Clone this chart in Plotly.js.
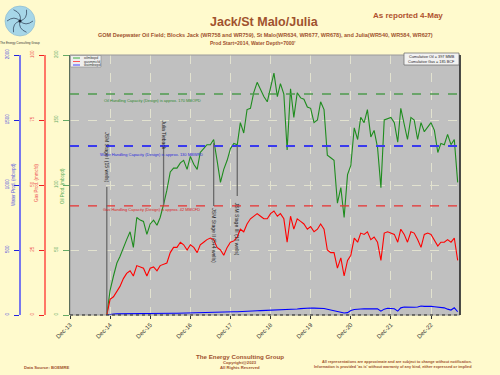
<!DOCTYPE html>
<html>
<head>
<meta charset="utf-8">
<script src="https://cdn.plot.ly/plotly-3.0.1.min.js"></script>
<style>html,body{margin:0;padding:0;background:#FFFACD;}#chart{width:500px;height:375px;}</style>
</head>
<body>
<div id="chart"></div>
<script>
// ---- data (monthly, first month Nov 2014) ----
const firstMonth = '2014-11';
const oilMbopd = [
  0,19,30,40,45,52,58,64,52,75,
  73,72,62,70,73,69,75,85,96,110,
  113,113,117,119,112,122,116,112,125,128,
  131,131,135,119,102,112,119,128,132,131,
  148,140,158,159,171,179,173,168,164,175,
  186,168,178,170,127,174,152,171,167,166,
  160,159,148,150,164,158,123,121,119,86,
  98,75,108,115,144,135,152,148,158,137,
  142,129,98,150,151,152,148,133,159,148,
  135,152,150,135,148,141,145,148,142,125,
  132,131,139,131,135,102
];
const gasMmcfd = [
  0,6,7,9,11,14,16,17,15,19,
  18.5,18,15,18,18.5,17,19,19.5,20,24,
  26,26,28,27,25,27,26,24,27,28,
  29,29.6,29,26,25,23,26,28,28.5,30,
  33,32,35,37,38,39,38,37,37,39,
  40,38,39,37,28,38,33,37,36,35,
  33,34,32,33,35,33,25,24,24,18,
  22,15,21,23,29.6,28,31.5,31,32,29,
  30,28,21,31.5,32,31.5,31,28,33,31,
  28,32,31.5,29,26,31,31.5,31,29,26.5,
  28,28,29,28,29.6,21
];
const waterMbwpd = [
  0,5,8,9,10,10,11,11,10,11,
  11,12,11,12,12,12,12,13,13,14,
  14,14,15,15,15,16,16,17,17,18,
  18,19,20,20,21,22,23,24,25,25,
  27,28,30,31,32,33,34,35,36,37,
  38,38,38,39,38,40,44,46,49,52,
  54,54,53,52,52,50,44,38,30,22,
  18,15,18,35,42,46,46,47,48,48,
  50,48,30,45,52,50,48,30,55,62,
  60,62,60,62,69,66,68,66,64,60,
  58,55,45,38,55,25
];
const xTickVals = ['2013-12-01','2014-12-01','2015-12-01','2016-12-01','2017-12-01','2018-12-01','2019-12-01','2020-12-01','2021-12-01','2022-12-01'];
const xTickText = ['Dec-13','Dec-14','Dec-15','Dec-16','Dec-17','Dec-18','Dec-19','Dec-20','Dec-21','Dec-22'];
const oilTicks = [0,50,100,150,200];
const gasTicks = [0,25,50,75,100];
const waterTicks = [0,500,1000,1500,2000];
const oilCapacity = 170, waterCapacity = 130, gasCapacity = 42;
const eventDates = ['2014-11-01','2016-04-01','2017-07-01','2018-02-01'];
const eventLabels = ['JSM Stage I (15 wells)','Julia Tieback','JSM Stage II (5+4 wells)','JSM Stage III (10 wells)'];
const legendNames = ['oilmbopd','gasmmcfd','watmbwpd'];
const cumulativeText = ['Cumulative Oil = 397 MMB','Cumulative Gas = 185 BCF'];

// ---- build dates ----
function monthSeq(start, n){
  let [y,m] = start.split('-').map(Number);
  const out=[];
  for(let i=0;i<n;i++){
    out.push(y+'-'+String(m).padStart(2,'0')+'-01');
    m++; if(m>12){m=1;y++;}
  }
  return out;
}
const dates = monthSeq(firstMonth, oilMbopd.length);

// pixel -> paper helpers (margins are zero)
const W=500,H=375;
const px = x => x/W;
const py = y => 1 - y/H;
const L=70,R=460,T=55,B=315;
const brown = '#A0522D';
const FF = 'Liberation Sans, Arial, sans-serif';

const traces = [
  {x:dates,y:waterMbwpd,yaxis:'y3',type:'scatter',mode:'lines',line:{color:'#0000ff',width:1.1},showlegend:false,name:legendNames[2]},
  {x:dates,y:gasMmcfd,yaxis:'y2',type:'scatter',mode:'lines',line:{color:'#ff0000',width:1.1},showlegend:false,name:legendNames[1]},
  {x:dates,y:oilMbopd,yaxis:'y',type:'scatter',mode:'lines',line:{color:'#1e8c1e',width:1.1},showlegend:false,name:legendNames[0]}
];

const shapes = [];
const ann = [];
function A(o){ ann.push(Object.assign({xref:'paper',yref:'paper',xanchor:'center',yanchor:'middle',showarrow:false},o)); }

// plot border
shapes.push({type:'rect',xref:'paper',yref:'paper',x0:px(L),x1:px(R),y0:py(B),y1:py(T),line:{color:'#9a9a9a',width:1},layer:'above'});
shapes.push({type:'line',xref:'paper',yref:'paper',x0:px(R),x1:px(R),y0:py(B),y1:py(T),line:{color:'#222',width:1.5},layer:'above'});
shapes.push({type:'line',xref:'paper',yref:'paper',x0:px(L),x1:px(R),y0:py(B),y1:py(B),line:{color:'#222',width:1,dash:'dot'},layer:'above'});

// capacity lines
shapes.push({type:'line',xref:'paper',yref:'y',x0:px(L),x1:px(R),y0:oilCapacity,y1:oilCapacity,line:{color:'#4d9a4d',width:1.3,dash:'dash'}});
shapes.push({type:'line',xref:'paper',yref:'y',x0:px(L),x1:px(R),y0:waterCapacity,y1:waterCapacity,line:{color:'#3a3aee',width:1.8,dash:'dash'}});
shapes.push({type:'line',xref:'paper',yref:'y2',x0:px(L),x1:px(R),y0:gasCapacity,y1:gasCapacity,line:{color:'#e83030',width:1.3,dash:'dash'}});
A({x:px(102),y:py(101),xanchor:'left',text:'Oil Handling Capacity (Design) is approx. '+oilCapacity+' MBOPD',font:{family:FF,size:4,color:'#2e8a2e'}});
A({x:px(98),y:py(154),xanchor:'left',text:'Water Handling Capacity (Design) is approx. '+waterCapacity+' MBWPD',font:{family:FF,size:4,color:'#2b2bdd'}});
A({x:px(101),y:py(209),xanchor:'left',text:'Gas Handling Capacity (Design) is approx. '+gasCapacity+' MMCFD',font:{family:FF,size:4,color:'#dd2222'}});

// event callouts
const evLine = [[187,313],[148,205],[143,206],[146,196]];
const evText = [157,135,236,229];
eventDates.forEach((d,i)=>{
  shapes.push({type:'line',xref:'x',yref:'paper',x0:d,x1:d,y0:py(evLine[i][1]),y1:py(evLine[i][0]),line:{color:'#6a6a6a',width:1.3}});
  A({xref:'x',x:d,y:py(evText[i]),textangle:90,text:eventLabels[i],font:{family:FF,size:5,color:'#222'}});
});

// manual legend
shapes.push({type:'rect',xref:'paper',yref:'paper',x0:px(70.5),x1:px(101),y0:py(67),y1:py(55.5),fillcolor:'#eeeeee',line:{color:'#888',width:0.6},layer:'above'});
const legCols = ['#3cae3c','#ff5555','#4444ff'];
legendNames.forEach((n,i)=>{
  const yy = 58+i*3.5;
  shapes.push({type:'line',xref:'paper',yref:'paper',x0:px(73),x1:px(80),y0:py(yy),y1:py(yy),line:{color:legCols[i],width:1},layer:'above'});
  A({x:px(81.5),y:py(yy),xanchor:'left',text:n,font:{family:FF,size:3.5,color:'#333'}});
});

// cumulative box
shapes.push({type:'rect',xref:'paper',yref:'paper',x0:px(404),x1:px(459),y0:py(65),y1:py(53),fillcolor:'#f2f2f2',line:{color:'#666',width:0.7},layer:'above'});
A({x:px(431.5),y:py(56.5),text:cumulativeText[0],font:{family:FF,size:3.8,color:'#222'}});
A({x:px(431.5),y:py(61.5),text:cumulativeText[1],font:{family:FF,size:3.8,color:'#222'}});

// axis titles
A({x:px(13),y:py(185),textangle:-90,text:'Water Prod. (mbwpd)',font:{family:FF,size:4.5,color:'#5555dd'}});
A({x:px(36),y:py(183),textangle:-90,text:'Gas Prod. (mmcfd)',font:{family:FF,size:4.5,color:'#ee5555'}});
A({x:px(62),y:py(186),textangle:-90,text:'Oil Prod. (mbopd)',font:{family:FF,size:4.5,color:'#55aa55'}});

// titles
A({x:px(264),y:py(22),text:'<b>Jack/St Malo/Julia</b>',font:{family:FF,size:12.5,color:brown}});
A({x:px(265),y:py(35),text:'<b>GOM Deepwater Oil Field; Blocks Jack (WR758 and WR759), St Malo(WR634, WR677, WR678), and Julia(WR540, WR584, WR627)</b>',font:{family:FF,size:5.5,color:brown}});
A({x:px(252),y:py(43),text:"<b>Prod Start=2014, Water Depth=7000'</b>",font:{family:FF,size:5,color:brown}});
A({x:px(408),y:py(15),text:'<b>As reported 4-May</b>',font:{family:FF,size:8,color:'#B0522D'}});

// footer
A({x:px(240),y:py(356),text:'<b>The Energy Consulting Group</b>',font:{family:FF,size:6.2,color:brown}});
A({x:px(240),y:py(362),text:'<b>Copyright@2023</b>',font:{family:FF,size:4.2,color:brown}});
A({x:px(240),y:py(367),text:'<b>All Rights Reserved</b>',font:{family:FF,size:4.2,color:brown}});
A({x:px(22),y:py(367),xanchor:'left',text:'<b>Data Source: BOEMRE</b>',font:{family:FF,size:4.2,color:brown}});
A({x:px(474),y:py(362),xanchor:'right',text:'<b>All representations are approximate and are subject to change without notification.</b>',font:{family:FF,size:3.8,color:brown}});
A({x:px(474),y:py(367),xanchor:'right',text:"<b>Information is provided 'as is' without warranty of any kind, either expressed or implied</b>",font:{family:FF,size:3.8,color:brown}});

// logo
const cx=20, cy=21, r=15;
shapes.push({type:'circle',xref:'paper',yref:'paper',x0:px(cx-r),x1:px(cx+r),y0:py(cy+r),y1:py(cy-r),fillcolor:'#a6d6e8',line:{color:'#86b6cc',width:0.6}});
for(let k=0;k<6;k++){
  const a = k*Math.PI/3;
  const ex = cx + 13*Math.cos(a), ey = cy + 13*Math.sin(a);
  const qx = cx + 8*Math.cos(a+0.8), qy = cy + 8*Math.sin(a+0.8);
  shapes.push({type:'path',xref:'paper',yref:'paper',path:`M ${px(cx)},${py(cy)} Q ${px(qx)},${py(qy)} ${px(ex)},${py(ey)}`,line:{color:'#2a3a50',width:0.7}});
}
shapes.push({type:'circle',xref:'paper',yref:'paper',x0:px(cx-1.5),x1:px(cx+1.5),y0:py(cy+1.5),y1:py(cy-1.5),fillcolor:'#1a2030',line:{width:0}});
A({x:px(20),y:py(43),text:'The Energy Consulting Group',font:{family:FF,size:3,color:'#333'}});

const xd = [px(L),px(R)];
const yd = [1-B/H, 1-T/H];
const gridC = '#e2e2cf';

const layout = {
  width:W,height:H,
  margin:{l:0,r:0,t:0,b:0},
  paper_bgcolor:'#FFFACD',
  plot_bgcolor:'#C0C0C0',
  showlegend:false,
  xaxis:{domain:xd,type:'date',range:['2013-12-01','2023-08-22'],tickvals:xTickVals,ticktext:xTickText,tickangle:-45,
    ticks:'outside',ticklen:3,tickcolor:'#333',tickfont:{family:FF,size:6,color:'#333'},
    showgrid:true,gridcolor:gridC,griddash:'dash',gridwidth:1,zeroline:false,showline:false},
  yaxis:{domain:yd,range:[0,200],tickvals:oilTicks,ticktext:oilTicks.map(String),tickangle:-90,
    ticks:'outside',ticklen:6,tickcolor:'#66aa66',tickfont:{family:FF,size:4.5,color:'#66aa66'},ticklabelstandoff:3,
    showline:true,linecolor:'#1d401d',linewidth:1.5,showgrid:true,gridcolor:gridC,griddash:'dash',zeroline:false},
  yaxis2:{overlaying:'y',anchor:'free',position:px(45),side:'left',range:[0,100],tickvals:gasTicks,ticktext:gasTicks.map(String),tickangle:-90,
    ticks:'outside',ticklen:5,tickcolor:'#ee2222',tickfont:{family:FF,size:4.5,color:'#ee5555'},ticklabelstandoff:3,
    showline:true,linecolor:'#ff7766',linewidth:2,showgrid:false,zeroline:false},
  yaxis3:{overlaying:'y',anchor:'free',position:px(20),side:'left',range:[0,2000],tickvals:waterTicks,ticktext:waterTicks.map(String),tickangle:-90,
    ticks:'outside',ticklen:5,tickcolor:'#2222dd',tickfont:{family:FF,size:4.5,color:'#5555dd'},ticklabelstandoff:3,
    showline:true,linecolor:'#7777ee',linewidth:2,showgrid:false,zeroline:false},
  shapes:shapes,
  annotations:ann
};
Plotly.newPlot('chart',traces,layout,{staticPlot:true,displayModeBar:false});
</script>
</body>
</html>
